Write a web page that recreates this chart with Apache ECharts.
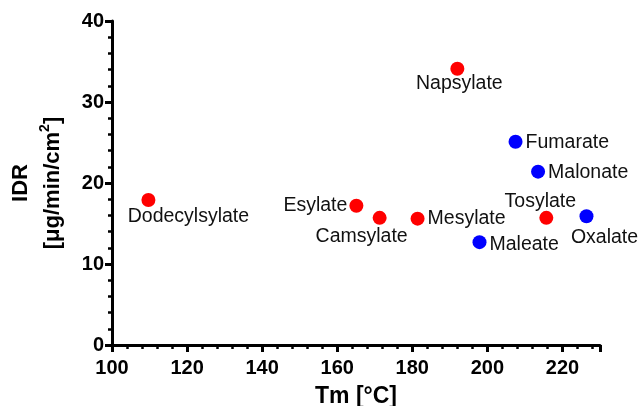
<!DOCTYPE html>
<html>
<head>
<meta charset="utf-8">
<script src="https://cdn.jsdelivr.net/npm/echarts@6/dist/echarts.min.js"></script>
<style>
html,body{margin:0;padding:0;background:#fff;}
#c{width:638px;height:406px;}
</style>
</head>
<body>
<div id="c"></div>
<script>
// Data
const sulfonateNames = ['Dodecylsylate','Napsylate','Esylate','Camsylate','Mesylate','Tosylate'];
const sulfonateTm   = [109.7, 192.0, 165.1, 171.3, 181.4, 215.7];
const sulfonateIDR  = [17.9, 34.1, 17.2, 15.7, 15.6, 15.7];

const carboxylateNames = ['Maleate','Fumarate','Malonate','Oxalate'];
const carboxylateTm    = [197.9, 207.5, 213.5, 226.4];
const carboxylateIDR   = [12.7, 25.1, 21.4, 15.9];

const xTicks = [100, 120, 140, 160, 180, 200, 220];
const yTicks = [0, 10, 20, 30, 40];

// Label placement (styling, not data)
const labelPlace = {
  'Dodecylsylate': {position:'inside', offset:[40,17]},
  'Napsylate':     {position:'inside', offset:[2,15]},
  'Esylate':       {position:'left', distance:2},
  'Camsylate':     {position:'inside', offset:[-18,19]},
  'Mesylate':      {position:'right', distance:3},
  'Tosylate':      {position:'inside', offset:[-6,-16]},
  'Maleate':       {position:'right', distance:3, offset:[0,2]},
  'Fumarate':      {position:'right', distance:3, offset:[0,1]},
  'Malonate':      {position:'right', distance:3, offset:[0,1]},
  'Oxalate':       {position:'inside', offset:[18,21]}
};

function build(names, xs, ys){
  return names.map((n,i)=>({
    name:n,
    value:[xs[i], ys[i]],
    label: Object.assign({show:true, formatter:n}, labelPlace[n])
  }));
}

const FONT = '"Liberation Sans", Arial, sans-serif';

const chart = echarts.init(document.getElementById('c'), null, {renderer:'canvas'});
chart.setOption({
  animation:false,
  backgroundColor:'#fff',
  grid:{left:112, right:38, top:21, bottom:61, containLabel:false, outerBoundsMode:'none'},
  xAxis:{
    type:'value', min:100, max:230, interval:20,
    name:'Tm [°C]', nameLocation:'middle', nameGap:40,
    nameTextStyle:{fontFamily:FONT, fontWeight:'bold', fontSize:23, color:'#000'},
    axisLine:{show:true, onZero:false, lineStyle:{color:'#000', width:3}},
    axisTick:{show:true, length:7, lineStyle:{color:'#000', width:3}},
    minorTick:{show:true, splitNumber:5, length:4, lineStyle:{color:'#000', width:2.5}},
    axisLabel:{fontFamily:FONT, fontWeight:'bold', fontSize:20, color:'#000', margin:13,
      formatter:v=> xTicks.includes(v) ? String(v) : ''},
    splitLine:{show:false}
  },
  yAxis:{
    type:'value', min:0, max:40, interval:10,
    name:'{a|IDR}\n{b|[μg/min/cm}{c|2}{b|]}',
    nameLocation:'middle', nameGap:44, nameRotate:90,
    nameTextStyle:{
      fontFamily:FONT, fontWeight:'bold', color:'#000', align:'center',
      rich:{
        a:{fontFamily:FONT, fontWeight:'bold', fontSize:22, color:'#000', lineHeight:34},
        b:{fontFamily:FONT, fontWeight:'bold', fontSize:22, color:'#000', lineHeight:30},
        c:{fontFamily:FONT, fontWeight:'bold', fontSize:14, color:'#000', verticalAlign:'top', lineHeight:30, padding:[0,0,12,0]}
      }
    },
    axisLine:{show:true, lineStyle:{color:'#000', width:3}},
    axisTick:{show:true, length:7, lineStyle:{color:'#000', width:3}},
    minorTick:{show:true, splitNumber:5, length:4, lineStyle:{color:'#000', width:2.5}},
    axisLabel:{fontFamily:FONT, fontWeight:'bold', fontSize:20, color:'#000', margin:8,
      formatter:v=> yTicks.includes(v) ? String(v) : ''},
    splitLine:{show:false}
  },
  series:[
    {
      type:'scatter', name:'Sulfonates', symbolSize:14,
      itemStyle:{color:'#ff0000', opacity:1},
      label:{fontFamily:FONT, fontSize:19.5, color:'#111'},
      data: build(sulfonateNames, sulfonateTm, sulfonateIDR)
    },
    {
      type:'scatter', name:'Carboxylates', symbolSize:14,
      itemStyle:{color:'#0000ff', opacity:1},
      label:{fontFamily:FONT, fontSize:19.5, color:'#111'},
      data: build(carboxylateNames, carboxylateTm, carboxylateIDR)
    }
  ]
});
</script>
</body>
</html>
